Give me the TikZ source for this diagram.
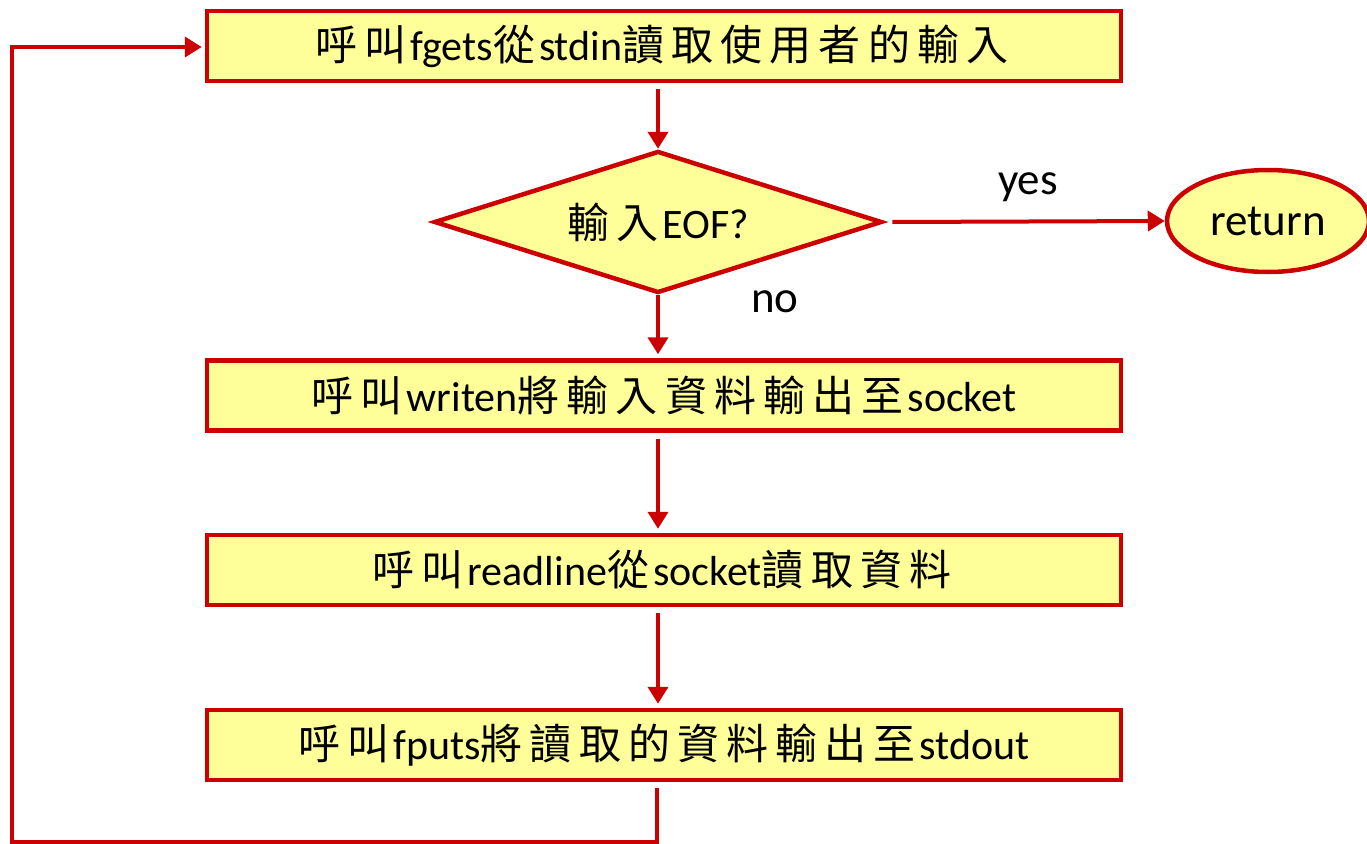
\documentclass[tikz,border=0pt]{standalone}
\usepackage{fontspec}
\setmainfont{Carlito}
\newfontfamily\cj[LetterSpace=17]{Noto Sans CJK TC}
\newcommand\Cg[1]{{\cj #1}\kern4pt}
\usetikzlibrary{shapes.geometric,arrows.meta}
\definecolor{lred}{HTML}{CC0000}
\definecolor{lyel}{HTML}{FFFF99}
\begin{document}
\begin{tikzpicture}[x=1pt,y=-1pt,
  every node/.style={font=\fontsize{42}{46}\selectfont},
  big/.style={font=\fontsize{45}{50}\selectfont},
  box/.style={draw=lred,fill=lyel,line width=4.5pt,minimum width=914pt,minimum height=70pt,inner sep=0pt},
  dec/.style={diamond,draw=lred,fill=lyel,line width=4.5pt,minimum width=448pt,minimum height=142pt,aspect=3.15,inner sep=0pt,font=\fontsize{42}{46}\selectfont},
  term/.style={ellipse,draw=lred,fill=lyel,line width=4.5pt,minimum width=202pt,minimum height=102pt,inner sep=0pt,big},
  arr/.style={draw=lred,line width=4pt,-{Triangle[width=20pt,length=17pt]}}]
\useasboundingbox (0,0) rectangle (1367,843);
\node[box] (b1) at (664,46) {\Cg{呼叫}fgets\Cg{從}stdin\Cg{讀取使用者的輸入}};
\node[dec] (d) at (658,222) {\Cg{輸入}EOF?};
\node[term] (r) at (1268,221) {return};
\node[box] (b2) at (664,395.5) {\Cg{呼叫}writen\Cg{將輸入資料輸出至}socket};
\node[box] (b3) at (664,570) {\Cg{呼叫}readline\Cg{從}socket\Cg{讀取資料}};
\node[box] (b4) at (664,745) {\Cg{呼叫}fputs\Cg{將讀取的資料輸出至}stdout};
\coordinate (c1) at (657,842);
\coordinate (c2) at (12,842);
\coordinate (c3) at (12,47);
\draw[arr,shorten <=6pt] (b1.south -| d.north) -- (d.north);
\draw[arr] (d.east) ++(8,0) coordinate (ds) -- (r.west);
\draw[arr,shorten >=4pt] (d.south) -- (d.south |- b2.north);
\draw[arr,shorten <=6pt,shorten >=4pt] (b2.south -| d.south) -- (d.south |- b3.north);
\draw[arr,shorten <=6pt,shorten >=4pt] (b3.south -| d.south) -- (d.south |- b4.north);
\draw[arr,shorten <=6pt,shorten >=3pt] (b4.south -| c1) -- (c1) -- (c2) -- (c3) -- (b1.west |- c3);
\node[big] (yes) at (1028,187) {yes};
\node[big] (no) at (775,302) {no};
\end{tikzpicture}
\end{document}
